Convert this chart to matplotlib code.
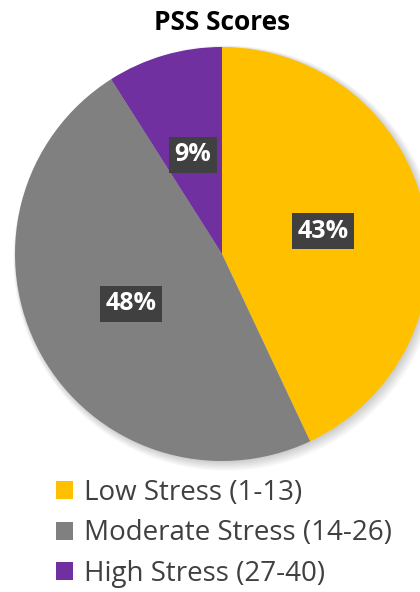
import matplotlib
matplotlib.use("Agg")
import matplotlib.pyplot as plt
from matplotlib.patches import Circle

categories = ["Low Stress (1-13)", "Moderate Stress (14-26)", "High Stress (27-40)"]
values = [43, 48, 9]
colors = ["#FFC000", "#808080", "#7030A0"]
title = "PSS Scores"

plt.rcParams['font.family'] = ['Open Sans', 'DejaVu Sans']

fig = plt.figure(figsize=(4.2, 5.92), dpi=100)
W, H = 420, 592
cx, cy, r = 222, 254, 207
ax = fig.add_axes([(cx - r) / W, (H - cy - r) / H, 2 * r / W, 2 * r / H])
ax.set_xlim(-1, 1)
ax.set_ylim(-1, 1)
ax.set_aspect('equal')
ax.axis('off')

# soft shadow
for k in range(8):
    ax.add_patch(Circle((0.006 + k * 0.002, -0.006 - k * 0.002), 1.0 + k * 0.004,
                        color='black', alpha=0.025, lw=0, zorder=0, clip_on=False))

wedges, texts, autotexts = ax.pie(
    values, colors=colors, startangle=90, counterclock=False, radius=1.0,
    autopct=lambda p: f"{p:.0f}%", pctdistance=0.5,
    wedgeprops=dict(linewidth=0), frame=False)
for w in wedges:
    w.set_zorder(2)
    w.set_clip_on(False)
for t in autotexts:
    t.set_color('white')
    t.set_fontsize(18)
    t.set_fontweight('bold')
    t.set_zorder(5)
    t.set_bbox(dict(boxstyle='square,pad=0.22', facecolor='#404040', edgecolor='none'))
ax.set_xlim(-1, 1)
ax.set_ylim(-1, 1)

fig.text(cx / W, 1 - 22 / H, title, ha='center', va='center', fontsize=19,
         fontweight='bold', color='black')

leg = fig.legend(wedges, categories, loc='upper left', bbox_to_anchor=(56 / W, 1 - 479 / H),
                 frameon=False, fontsize=20, handlelength=0.62, handleheight=0.62,
                 handletextpad=0.4, labelspacing=0.45, borderaxespad=0, borderpad=0)
for t in leg.get_texts():
    t.set_color('#404040')

fig.savefig('out.png', dpi=100)
